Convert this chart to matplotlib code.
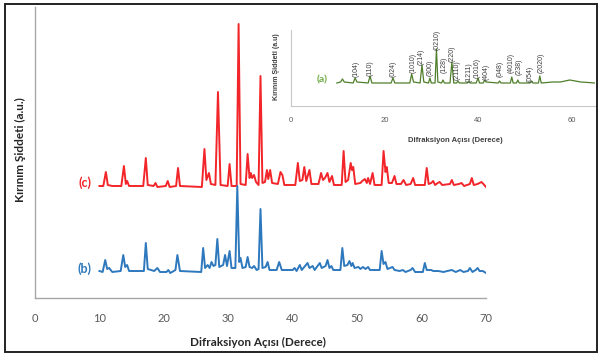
import matplotlib
matplotlib.use("Agg")
import matplotlib.pyplot as plt
from matplotlib.patches import Rectangle

# ---------------- data ----------------
# (c) red pattern: 2theta vertices and intensity (a.u., offset included)
c_x = [10.0, 10.6, 11.0, 11.3, 12.0, 13.4, 13.8, 14.1, 14.3, 14.6, 16.8, 17.2, 17.5, 18.4, 18.7, 19.0,
       20.3, 20.6, 20.9, 21.9, 22.2, 22.5, 25.9, 26.3, 26.6, 27.0, 27.3, 28.0, 28.4, 28.8, 29.9, 30.2,
       30.5, 31.3, 31.6, 31.9, 32.7, 33.0, 33.3, 33.5, 33.7, 34.0, 34.3, 34.7, 35.0, 35.3, 35.7, 36.0,
       36.2, 36.5, 36.8, 37.7, 38.1, 38.4, 38.7, 40.4, 40.8, 41.1, 41.5, 41.8, 42.1, 42.6, 42.9, 44.0,
       44.4, 44.7, 45.0, 45.4, 45.7, 46.1, 46.4, 47.6, 47.9, 48.2, 48.6, 49.0, 49.2, 49.4, 49.7, 50.5,
       50.8, 51.2, 51.5, 51.7, 52.0, 52.4, 52.7, 53.8, 54.1, 54.4, 54.6, 54.9, 55.4, 55.8, 56.1, 56.8,
       57.2, 57.6, 58.3, 58.7, 59.0, 60.5, 60.8, 61.1, 61.5, 61.8, 62.1, 62.5, 62.8, 63.2, 64.4, 64.7,
       65.0, 65.8, 66.2, 66.6, 67.5, 67.8, 68.1, 68.7, 69.0, 69.3, 69.6, 70.0]
c_y = [112, 112, 126, 113, 112, 112, 132, 114, 117, 112, 112, 140, 113, 112, 115, 111,
       112, 117, 111, 112, 130, 112, 111, 149, 118, 125, 114, 113, 206, 113, 112, 134,
       112, 112, 274, 114, 113, 144, 120, 125, 120, 123, 116, 113, 222, 115, 116, 128,
       119, 128, 115, 114, 126, 123, 113, 113, 135, 117, 118, 131, 117, 128, 114, 114,
       125, 118, 120, 125, 116, 122, 113, 113, 147, 116, 118, 135, 128, 131, 114, 115,
       117, 119, 115, 120, 114, 125, 113, 113, 147, 126, 131, 115, 115, 122, 114, 114,
       118, 113, 114, 120, 113, 113, 130, 114, 115, 117, 113, 115, 116, 113, 114, 118,
       113, 114, 115, 112, 114, 120, 113, 114, 115, 116, 114, 111]

# (b) blue pattern
b_x = [10.0, 10.5, 10.9, 11.2, 11.5, 12.0, 13.3, 13.7, 14.0, 14.3, 14.6, 16.9, 17.2, 17.5, 18.5, 19.0,
       19.4, 20.4, 20.7, 21.0, 21.8, 22.1, 22.5, 25.8, 26.1, 26.4, 26.8, 27.1, 27.4, 27.7, 28.0, 28.3,
       28.6, 29.2, 29.5, 29.8, 30.2, 30.5, 31.1, 31.4, 31.7, 31.9, 32.2, 32.7, 33.0, 33.3, 33.7, 34.0,
       34.4, 34.7, 35.0, 35.3, 35.8, 36.1, 36.4, 37.5, 37.9, 38.3, 40.0, 40.3, 40.6, 41.1, 41.4, 42.3,
       42.6, 43.1, 43.4, 44.2, 44.5, 45.1, 45.4, 45.7, 46.0, 46.3, 47.4, 47.7, 48.0, 48.5, 48.8, 49.1,
       49.3, 49.6, 50.2, 50.5, 50.9, 51.3, 51.7, 52.0, 53.5, 53.8, 54.1, 54.4, 54.7, 55.5, 55.8, 56.6,
       57.1, 57.5, 58.3, 58.6, 59.0, 60.2, 60.5, 60.8, 61.5, 61.8, 62.6, 63.4, 64.0, 64.7, 65.3, 66.0,
       66.5, 67.2, 67.5, 67.9, 68.4, 68.7, 69.0, 69.5, 70.0]
b_y = [27, 26, 38, 29, 30, 26, 27, 43, 31, 33, 27, 27, 55, 29, 27, 30,
       26, 26, 28, 25, 28, 43, 27, 26, 50, 30, 33, 30, 36, 32, 33, 59,
       31, 33, 43, 32, 47, 30, 30, 112, 36, 40, 30, 31, 41, 31, 30, 32,
       28, 29, 89, 30, 31, 36, 28, 28, 36, 28, 28, 30, 27, 33, 28, 35,
       30, 32, 28, 35, 30, 32, 38, 30, 32, 28, 28, 50, 32, 33, 37, 32,
       35, 30, 31, 29, 31, 29, 31, 28, 28, 47, 34, 36, 29, 31, 28, 27,
       28, 26, 28, 30, 26, 26, 35, 28, 28, 27, 27, 26, 27, 28, 26, 28,
       26, 27, 30, 26, 28, 30, 27, 27, 25]

# (a) green pattern (inset)
a_x = [9.8, 10.6, 11.0, 11.4, 13.3, 13.7, 14.1, 16.5, 16.9, 17.3, 21.4, 21.8, 22.2, 25.4, 25.8, 26.2,
       27.6, 28.0, 28.4, 29.4, 29.7, 30.0, 30.8, 31.1, 31.4, 32.2, 32.5, 32.8, 34.0, 34.4, 34.8, 35.4,
       35.7, 36.0, 37.7, 38.0, 38.3, 39.6, 40.0, 40.3, 41.1, 41.4, 41.7, 44.3, 44.6, 44.9, 46.9, 47.2,
       47.5, 48.2, 48.5, 48.8, 51.1, 51.4, 51.7, 52.9, 53.2, 53.5, 56.0, 57.6, 59.6, 62.0, 65.0]
a_y = [23, 24, 27, 24, 23, 28, 24, 23, 30, 23, 23, 28, 23, 23, 32, 24,
       23, 41, 24, 23, 28, 23, 23, 57, 24, 23, 26, 23, 23, 44, 23, 23,
       25, 23, 23, 25, 23, 23, 28, 23, 23, 26, 24, 23, 25, 23, 23, 29,
       23, 23, 26, 23, 23, 25, 23, 23, 30, 23, 24, 24, 26, 24, 23]

hkl_labels = ["(104)", "(110)", "(024)", "(1010)", "(214)", "(300)", "(0210)", "(128)", "(220)",
              "(2110)", "(1211)", "(1016)", "(404)", "(048)", "(4010)", "(238)", "(054)", "(2020)"]
hkl_x = [13.9, 16.9, 21.8, 26.1, 27.9, 29.7, 31.2, 32.7, 34.4,
         35.6, 38.0, 39.9, 41.7, 44.8, 47.1, 48.7, 51.1, 53.4]
hkl_y = [29, 30, 29, 33, 41, 30, 56, 33, 44,
         26, 24, 28, 26, 29, 33, 31, 24, 33]

main_xticks = [0, 10, 20, 30, 40, 50, 60, 70]
inset_xticks = [0, 20, 40, 60]

# ---------------- figure ----------------
W, H = 600, 356
fig = plt.figure(figsize=(6.0, 3.56), dpi=100)
fig.patch.set_facecolor("white")

RED = "#f2262a"
BLUE = "#2e78bd"
GREEN = "#4f7f2a"
GRAY = "#a6a6a6"
TICK = "#595959"
MAINFONT = "Lato"
SMALLFONT = "Liberation Sans"

def fx(px):
    return px / W

def fy(py):
    return 1 - py / H

# main axes
ax = fig.add_axes([fx(35), fy(298), fx(486) - fx(35), fy(7) - fy(298)])
ax.plot(c_x, c_y, color=RED, lw=1.4, solid_joinstyle="round")
ax.plot(b_x, b_y, color=BLUE, lw=1.4, solid_joinstyle="round")
ax.set_xlim(0, 70)
ax.set_ylim(0, 291)
ax.set_xticks(main_xticks)
ax.set_xticklabels([str(t) for t in main_xticks], fontfamily=MAINFONT, fontsize=8, color=TICK)
ax.set_yticks([])
ax.tick_params(axis="x", length=0, pad=11)
for s in ["top", "right"]:
    ax.spines[s].set_visible(False)
for s in ["left", "bottom"]:
    ax.spines[s].set_color(GRAY)
    ax.spines[s].set_linewidth(1.0)

fig.text(fx(258), fy(342), "Difraksiyon Açısı (Derece)", ha="center", va="center",
         fontfamily=MAINFONT, fontweight="bold", fontsize=8.5, color="#262626")
fig.text(fx(20), fy(150), "Kırınım Şiddeti (a.u.)", ha="center", va="center", rotation=90,
         fontfamily=MAINFONT, fontweight="bold", fontsize=8.5, color="#262626")
fig.text(fx(85), fy(183), "(c)", ha="center", va="center", fontfamily=MAINFONT,
         fontweight="bold", fontsize=9, color=RED)
fig.text(fx(85), fy(269), "(b)", ha="center", va="center", fontfamily=MAINFONT,
         fontweight="bold", fontsize=9, color=BLUE)

# inset axes
ia = fig.add_axes([fx(291), fy(106), fx(595) - fx(291), fy(30) - fy(106)])
ia.patch.set_alpha(0)
ia.plot(a_x, a_y, color=GREEN, lw=0.9, solid_joinstyle="round")
ia.set_xlim(0, 65)
ia.set_ylim(0, 76)
ia.set_xticks(inset_xticks)
ia.set_xticklabels([str(t) for t in inset_xticks], fontfamily=SMALLFONT, fontsize=5.5, color=TICK)
ia.set_yticks([])
ia.tick_params(axis="x", length=0, pad=8)
for s in ["top", "right"]:
    ia.spines[s].set_visible(False)
for s in ["left", "bottom"]:
    ia.spines[s].set_color("#c8c8c8")
    ia.spines[s].set_linewidth(0.8)
for lab, x, y in zip(hkl_labels, hkl_x, hkl_y):
    ia.text(x, y, lab, rotation=90, ha="center", va="bottom", fontfamily=SMALLFONT,
            fontsize=5, color="#404040")

fig.text(fx(455), fy(140), "Difraksiyon Açısı (Derece)", ha="center", va="center",
         fontfamily=SMALLFONT, fontweight="bold", fontsize=5.5, color="#404040")
fig.text(fx(277), fy(67), "Kırınım Şiddeti (a.u)", ha="center", va="center", rotation=90,
         fontfamily=SMALLFONT, fontweight="bold", fontsize=5, color="#404040")
fig.text(fx(322), fy(80), "(a)", ha="center", va="center", fontfamily=MAINFONT,
         fontweight="bold", fontsize=7.5, color="#70ad47")

# outer frame
fig.patches.append(Rectangle((fx(5), fy(352)), fx(597) - fx(5), fy(4) - fy(352),
                             transform=fig.transFigure, fill=False, edgecolor="#222222", lw=1.4))

fig.savefig("out.png", dpi=100)
